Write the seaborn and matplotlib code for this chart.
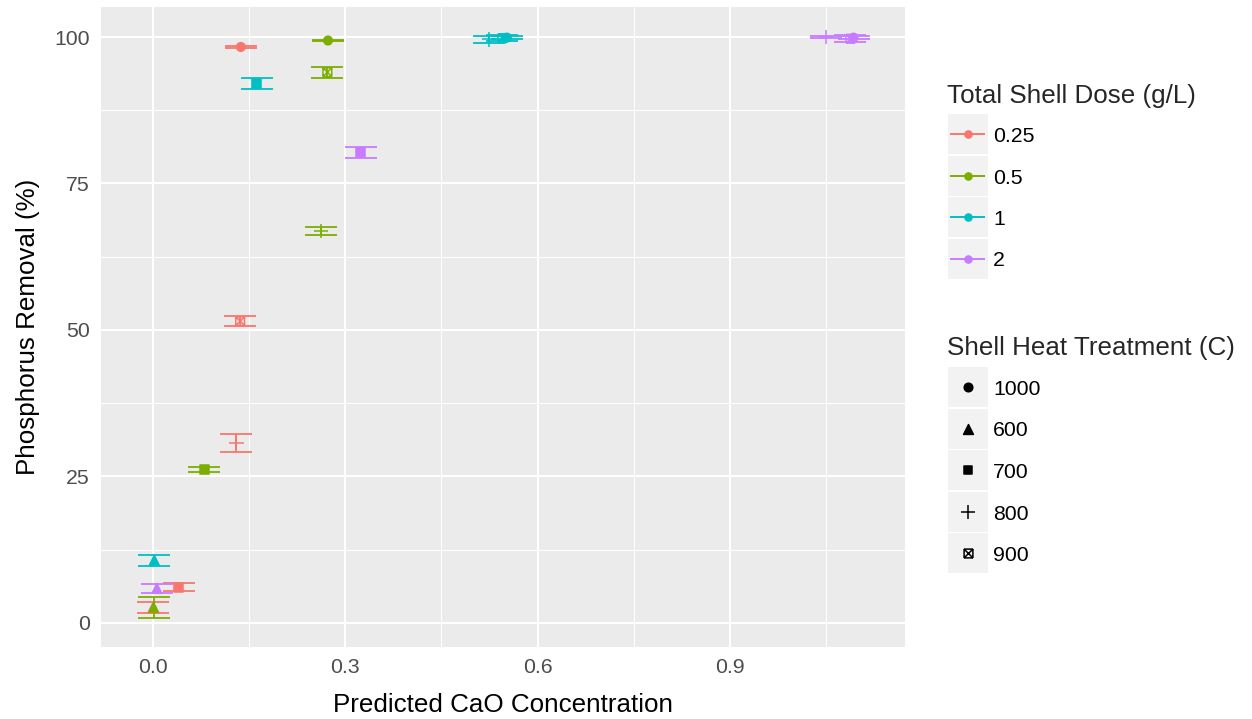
import numpy as np
import pandas as pd
import matplotlib
matplotlib.use("Agg")
import matplotlib.pyplot as plt
from matplotlib.path import Path
from matplotlib.patches import Rectangle
import seaborn as sns

# ---- data -------------------------------------------------------------
doses = ["0.25", "0.5", "1", "2"]
temps = ["1000", "600", "700", "800", "900"]

# predicted CaO concentration, per dose, in temperature order above
cao_025 = [0.137, 0.000, 0.040, 0.130, 0.136]
cao_05 = [0.273, 0.001, 0.080, 0.262, 0.272]
cao_1 = [0.552, 0.002, 0.162, 0.524, 0.545]
cao_2 = [1.093, 0.006, 0.324, 1.050, 1.088]

# phosphorus removal (%)
rem_025 = [98.3, 2.6, 6.1, 30.7, 51.5]
rem_05 = [99.4, 2.65, 26.2, 66.9, 94.0]
rem_1 = [99.9, 10.7, 92.1, 99.6, 99.8]
rem_2 = [99.9, 5.9, 80.3, 100.0, 99.7]

# standard error of removal
se_025 = [0.2, 0.95, 0.7, 1.5, 0.9]
se_05 = [0.15, 1.8, 0.4, 0.7, 0.95]
se_1 = [0.3, 0.95, 0.95, 0.6, 0.5]
se_2 = [0.3, 0.8, 0.95, 0.1, 0.6]

x_ticks = [0.0, 0.3, 0.6, 0.9]
x_tick_labels = ["0.0", "0.3", "0.6", "0.9"]
y_ticks = [0, 25, 50, 75, 100]
y_tick_labels = ["0", "25", "50", "75", "100"]

cao = {"0.25": cao_025, "0.5": cao_05, "1": cao_1, "2": cao_2}
rem = {"0.25": rem_025, "0.5": rem_05, "1": rem_1, "2": rem_2}
se = {"0.25": se_025, "0.5": se_05, "1": se_1, "2": se_2}

rows = []
for d in doses:
    for t, xv, yv, ev in zip(temps, cao[d], rem[d], se[d]):
        rows.append({"dose": d, "temp": t, "cao": xv, "removal": yv, "se": ev})
df = pd.DataFrame(rows)

# ---- styling ----------------------------------------------------------
palette = {"0.25": "#F8766D", "0.5": "#7CAE00", "1": "#00BFC4", "2": "#C77CFF"}

sns.set_style("white")
plt.rcParams["font.family"] = ["Liberation Sans", "DejaVu Sans"]

# line-art markers built from separate strokes
plus_path = Path([(-1, 0), (1, 0), (0, -1), (0, 1)],
                 [Path.MOVETO, Path.LINETO, Path.MOVETO, Path.LINETO])
sq_x_verts = [(-1, -1), (1, -1), (1, -1), (1, 1), (1, 1), (-1, 1), (-1, 1), (-1, -1),
              (-1, -1), (1, 1), (-1, 1), (1, -1)]
sq_x_codes = [Path.MOVETO, Path.LINETO] * 6
squarex_path = Path(sq_x_verts, sq_x_codes)

markers = {"1000": "o", "600": "^", "700": "s", "800": plus_path, "900": squarex_path}
sizes = {"1000": 38, "600": 50, "700": 40, "800": 110, "900": 40}

W, H = 1252, 719
fig = plt.figure(figsize=(W / 100, H / 100), dpi=100)
left, right, top, bottom = 100.5, 905, 7, 647
ax = fig.add_axes([left / W, 1 - bottom / H, (right - left) / W, (bottom - top) / H])
ax.set_facecolor("#EBEBEB")
for s in ax.spines.values():
    s.set_visible(False)

ax.set_xlim(-0.0819, 1.1732)
ax.set_ylim(-4.10, 105.12)
ax.set_xticks(x_ticks)
ax.set_xticklabels(x_tick_labels)
ax.set_yticks(y_ticks)
ax.set_yticklabels(y_tick_labels)
ax.set_xticks([0.15, 0.45, 0.75, 1.05], minor=True)
ax.set_yticks([12.5, 37.5, 62.5, 87.5], minor=True)
ax.grid(which="major", color="white", lw=1.45)
ax.grid(which="minor", color="white", lw=0.75)
ax.set_axisbelow(True)
ax.tick_params(which="major", length=4.3, width=1.1, color="#333333",
               labelcolor="#4D4D4D", labelsize=15.3, pad=3.5)
ax.tick_params(which="minor", length=0)

# error bars with caps 0.05 wide in data units
cap = 0.05
for d in doses:
    sub = df[df["dose"] == d]
    lo = sub["removal"] - sub["se"]
    hi = sub["removal"] + sub["se"]
    ax.vlines(sub["cao"], lo, hi, color=palette[d], lw=1.3, zorder=2)
    ax.hlines(lo, sub["cao"] - cap / 2, sub["cao"] + cap / 2, color=palette[d], lw=1.3, zorder=2)
    ax.hlines(hi, sub["cao"] - cap / 2, sub["cao"] + cap / 2, color=palette[d], lw=1.3, zorder=2)

sns.scatterplot(data=df, x="cao", y="removal", hue="dose", hue_order=doses,
                palette=palette, style="temp", style_order=temps, markers=markers,
                size="temp", size_order=temps, sizes=sizes,
                edgecolor="face", linewidth=1.1, legend=False, ax=ax, zorder=3)

ax.set_xlabel("")
ax.set_ylabel("")

# ---- titles and legends (pixel overlay) --------------------------------
ov = fig.add_axes([0, 0, 1, 1], facecolor="none")
ov.set_xlim(0, W)
ov.set_ylim(H, 0)
ov.axis("off")

ov.text((left + right) / 2, 712, "Predicted CaO Concentration", fontsize=18.7,
        ha="center", va="baseline", color="black")
ov.text(35, (top + bottom) / 2, "Phosphorus Removal (%)", fontsize=18.7,
        ha="center", va="baseline", rotation=90, rotation_mode="anchor", color="black")

key_x0, key_w = 948, 40
ov.text(947, 103, "Total Shell Dose (g/L)", fontsize=18.7, ha="left", va="baseline")
for i, d in enumerate(doses):
    cy = 134 + i * 41.5
    ov.add_patch(Rectangle((key_x0, cy - 20), key_w, 40, color="#F2F2F2", lw=0))
    ov.plot([950, 985], [cy, cy], color=palette[d], lw=1.4, solid_capstyle="butt")
    ov.plot([968], [cy], marker="o", ms=6.2, color=palette[d], mew=0)
    ov.text(993, cy + 8, d, fontsize=15.3, ha="left", va="baseline", color="black")

ov.text(947, 355, "Shell Heat Treatment (C)", fontsize=18.7, ha="left", va="baseline")
for i, t in enumerate(temps):
    cy = 387 + i * 41.5
    ov.add_patch(Rectangle((key_x0, cy - 20), key_w, 40, color="#F2F2F2", lw=0))
    ov.scatter([968], [cy], marker=markers[t], s=sizes[t], color="black",
               edgecolor="black", linewidth=1.1)
    ov.text(993, cy + 8, t, fontsize=15.3, ha="left", va="baseline", color="black")

fig.savefig("out.png", dpi=100, facecolor="white")
